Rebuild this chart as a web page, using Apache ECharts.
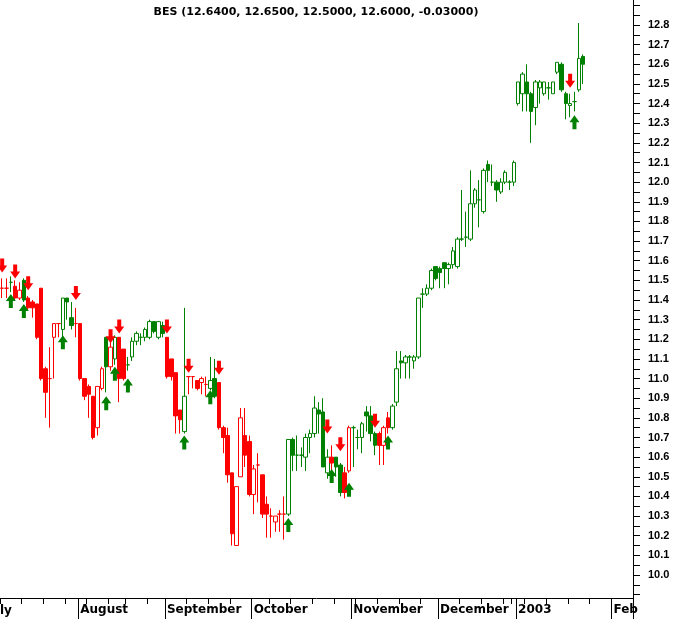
<!DOCTYPE html>
<html><head><meta charset="utf-8">
<script src="https://cdn.jsdelivr.net/npm/echarts/dist/echarts.min.js"></script>
<style>html,body{margin:0;padding:0;background:#fff}#c{width:681px;height:619px}</style>
</head><body><div id="c"></div>
<script>
// ---- trading calendar (categories) ----
const julDays=[8,9,10,11,12,15,16,17,18,19,22,23,24,25,26,29,30,31];
const augDays=[1,2,5,6,7,8,9,12,13,14,16,19,20,21,22,23,26,27,28,29];
const sepDays=[2,3,4,5,6,9,10,11,12,13,16,17,18,19,20,23,24,25,26,27];
const octDays=[1,2,3,4,7,8,9,10,11,14,15,16,17,18,21,22,23,24,25,28,29,30,31];
const novDays=[1,4,5,6,7,8,11,12,13,14,15,18,19,20,21,22,25,26,27,28];
const decDays=[2,3,4,5,6,9,10,11,12,13,16,17,18,19,20,23,27,30];
const janDays=[2,3,6,7,8,9,10,13,14,15,16,17,20,21,22,23,24,27,28,29,30,31];
const febDays=[3,4,5,6,7];
const monthNames=['August','September','October','November','December','2003','Feb'];

// ---- price data (per trading day) ----
const opens=[11.46,11.46,11.49,11.47,11.41,11.50,11.41,11.39,11.38,11.46,11.05,11.00,11.21,11.28,11.25,11.41,11.31,11.28,11.28,11.00,10.96,10.91,10.75,10.95,11.21,11.06,11.10,11.21,11.15,11.07,11.11,11.19,11.21,11.21,11.21,11.29,11.21,11.27,11.21,11.10,11.03,10.84,10.73,11.01,11.01,10.99,10.98,10.97,10.95,11.00,10.98,10.75,10.71,10.52,10.15,10.50,10.71,10.68,10.41,10.56,10.51,10.36,10.30,10.27,10.31,10.31,10.31,10.69,10.61,10.61,10.60,10.70,10.72,10.84,10.83,10.52,10.60,10.60,10.56,10.52,10.53,10.75,10.70,10.70,10.83,10.81,10.72,10.72,10.66,10.80,10.75,10.88,11.09,11.08,11.11,11.09,11.11,11.43,11.43,11.46,11.57,11.56,11.59,11.56,11.58,11.57,11.71,11.72,11.71,11.89,11.91,11.85,12.09,12.00,12.00,11.95,12.00,12.00,12.00,12.40,12.45,12.51,12.45,12.38,12.48,12.45,12.48,12.45,12.56,12.60,12.45,12.39,12.41,12.47,12.64];
const highs=[11.51,11.51,11.52,11.50,11.49,11.51,11.42,11.40,11.38,11.46,11.06,11.16,11.28,11.28,11.41,11.41,11.39,11.36,11.28,11.00,10.97,10.91,10.96,11.06,11.21,11.21,11.22,11.21,11.15,11.11,11.21,11.24,11.23,11.26,11.30,11.29,11.29,11.29,11.21,11.10,11.03,10.84,11.36,11.01,11.01,10.99,11.01,11.01,11.11,11.10,10.98,10.76,10.75,10.52,10.45,10.85,10.85,10.71,10.56,10.62,10.51,10.40,10.34,10.30,10.33,10.40,10.69,10.70,10.71,10.65,10.72,10.74,10.91,10.88,10.90,10.64,10.66,10.60,10.57,10.55,10.76,10.76,10.74,10.78,10.86,10.86,10.73,10.73,10.76,10.83,10.87,11.14,11.14,11.12,11.12,11.12,11.41,11.46,11.48,11.56,11.57,11.57,11.59,11.59,11.67,11.72,11.96,11.85,12.06,11.97,12.01,12.07,12.11,12.09,12.01,12.02,12.06,12.01,12.11,12.51,12.56,12.60,12.46,12.52,12.52,12.51,12.51,12.51,12.61,12.61,12.46,12.45,12.46,12.81,12.65];
const lows=[11.41,11.41,11.44,11.40,11.40,11.39,11.35,11.31,11.20,10.99,10.80,10.75,11.00,11.21,11.21,11.30,11.25,11.21,10.99,10.89,10.80,10.69,10.71,10.94,10.93,11.04,11.07,10.88,10.99,11.04,11.09,11.17,11.17,11.19,11.20,11.23,11.20,11.21,11.00,10.99,10.72,10.72,10.72,10.92,10.95,10.94,10.92,10.91,10.94,10.90,10.74,10.62,10.47,10.15,10.15,10.50,10.55,10.40,10.31,10.37,10.29,10.19,10.19,10.22,10.22,10.18,10.30,10.53,10.53,10.55,10.53,10.62,10.70,10.72,10.55,10.49,10.52,10.50,10.40,10.39,10.52,10.55,10.64,10.62,10.73,10.68,10.61,10.56,10.56,10.72,10.74,10.86,11.00,11.00,11.00,11.05,11.10,11.36,11.42,11.45,11.50,11.46,11.46,11.48,11.56,11.56,11.70,11.67,11.70,11.87,11.77,11.84,12.00,11.98,11.90,11.94,11.99,11.96,11.98,12.39,12.36,12.36,12.20,12.29,12.40,12.44,12.42,12.45,12.55,12.46,12.32,12.33,12.36,12.46,12.50];
const closes=[11.46,11.46,11.49,11.41,11.45,11.40,11.36,11.36,11.21,11.00,10.93,11.00,11.28,11.28,11.41,11.39,11.27,11.28,11.00,10.91,10.92,10.70,10.96,11.05,11.06,11.16,11.21,11.00,11.00,11.07,11.19,11.23,11.21,11.25,11.29,11.24,11.29,11.23,11.01,11.01,10.81,10.79,10.91,11.01,11.01,10.95,11.00,10.97,10.99,10.91,10.75,10.70,10.51,10.21,10.45,10.80,10.61,10.41,10.54,10.56,10.31,10.31,10.30,10.30,10.31,10.31,10.69,10.61,10.61,10.61,10.70,10.72,10.85,10.82,10.55,10.60,10.57,10.55,10.42,10.42,10.75,10.75,10.70,10.77,10.81,10.72,10.66,10.66,10.75,10.75,10.86,11.05,11.08,11.11,11.11,11.11,11.41,11.43,11.46,11.55,11.51,11.54,11.56,11.58,11.65,11.71,11.71,11.72,11.89,11.96,11.91,12.06,12.06,12.00,11.96,12.00,12.05,12.00,12.10,12.51,12.55,12.45,12.36,12.51,12.51,12.51,12.48,12.51,12.61,12.47,12.40,12.40,12.41,12.63,12.60];
// trend colour of each bar: g = green, r = red
const trend='rrgrrgrrrrrrrrgggrrrrrrrgrgrrgggggggggrrrrgrrrrrggrrrrrrrrrrrrrrrrggggggggggrggrrggggggrrrggggggggggggggggggggggggggggggggggggggggggggggggrgg'.split('');
// signal arrows: [bar index, price at arrow tip]
const sellArrows=[[0,11.54],[3,11.51],[6,11.45],[17,11.40],[25,11.18],[27,11.23],[38,11.23],[43,11.03],[50,11.02],[75,10.72],[78,10.63],[86,10.75],[131,12.48]];
const buyArrows=[[2,11.43],[5,11.38],[14,11.22],[24,10.91],[26,11.06],[29,11.00],[42,10.71],[48,10.94],[66,10.29],[76,10.54],[80,10.47],[89,10.71],[132,12.34]];

const GREEN='#008000', RED='#ff0000';
const FONT='Liberation Sans', XFONT='DejaVu Sans';

const categories=[], monthStart={}, monday={};
[[7,2002,julDays],[8,2002,augDays],[9,2002,sepDays],[10,2002,octDays],[11,2002,novDays],[12,2002,decDays],[1,2003,janDays],[2,2003,febDays]].forEach(([m,y,days],mi)=>{
  days.forEach((d,k)=>{
    const idx=categories.length;
    categories.push(y+'-'+String(m).padStart(2,'0')+'-'+String(d).padStart(2,'0'));
    if(k===0 && mi>0) monthStart[idx]=monthNames[mi-1];
    if(new Date(y,m-1,d).getDay()===1) monday[idx]=true;
  });
});

const candles=opens.map((o,i)=>{
  const col=trend[i]==='g'?GREEN:RED;
  const hollow=closes[i]>o;
  const fill=hollow?'#ffffff':col;
  return {value:[o,closes[i],lows[i],highs[i]],itemStyle:{color:fill,color0:fill,borderColor:col,borderColor0:col,borderWidth:1}};
});

const downPath='path://M3,0 L7,0 L7,7 L10,7 L5,14 L0,7 L3,7 Z';
const upPath='path://M5,0 L10,7 L7,7 L7,14 L3,14 L3,7 L0,7 Z';

const pxTop=25-19.643, pxBottom=575+19.643; // 12.9 and 9.9 positions
const chart=echarts.init(document.getElementById('c'),null,{renderer:'canvas',width:681,height:619});
chart.setOption({
  animation:false,
  backgroundColor:'#ffffff',
  grid:[
    {left:0,right:48,top:pxTop,bottom:619-pxBottom},
    {left:0,right:48,top:0,bottom:21}
  ],
  xAxis:[
    {type:'category',gridIndex:0,data:categories,boundaryGap:true,show:false},
    {type:'category',gridIndex:1,data:categories,boundaryGap:true,position:'bottom',
      axisLine:{show:true,lineStyle:{color:'#000',width:1}},
      axisTick:{show:true,length:6,interval:(i)=>!!monday[i],lineStyle:{color:'#000'}},
      axisLabel:{show:false},splitLine:{show:false}},
    {type:'category',gridIndex:1,data:categories,boundaryGap:true,position:'bottom',
      axisLine:{show:false},
      axisTick:{show:true,length:21,interval:(i)=>!!monthStart[i],lineStyle:{color:'#000'}},
      axisLabel:{show:true,interval:(i)=>!!monthStart[i],formatter:(v,i)=>monthStart[i]||'',
        align:'left',margin:6,color:'#000',fontFamily:XFONT,fontWeight:'bold',fontSize:12},
      splitLine:{show:false}}
  ],
  yAxis:[
    {type:'value',gridIndex:0,position:'right',min:9.9,max:12.9,interval:0.1,scale:true,
      axisLine:{show:false},
      axisTick:{show:true,length:7,inside:false,lineStyle:{color:'#000'}},
      minorTick:{show:true,splitNumber:2,length:7,lineStyle:{color:'#000'}},
      axisLabel:{margin:15,color:'#000',fontFamily:FONT,fontWeight:'bold',fontSize:11,
        formatter:(v)=>(v<9.95||v>12.85)?'':v.toFixed(1)},
      splitLine:{show:false}},
    {type:'value',gridIndex:1,position:'right',min:0,max:1,
      axisLine:{show:true,lineStyle:{color:'#000',width:1}},
      axisTick:{show:false},axisLabel:{show:false},splitLine:{show:false}}
  ],
  graphic:[
    {type:'text',x:316,y:7,style:{text:'BES (12.6400, 12.6500, 12.5000, 12.6000, -0.03000)',
      textAlign:'center',textVerticalAlign:'top',fill:'#000',font:'bold 11px "'+XFONT+'"'}},
    {type:'text',x:-13,y:605,style:{text:'July',textVerticalAlign:'top',fill:'#000',font:'bold 12px "'+XFONT+'"'}}
  ],
  series:[
    {type:'candlestick',xAxisIndex:0,yAxisIndex:0,data:candles,barWidth:4,clip:false},
    {type:'scatter',xAxisIndex:0,yAxisIndex:0,data:sellArrows,symbol:downPath,symbolSize:[10,14],
      symbolOffset:[0,-7],itemStyle:{color:RED,opacity:1},z:5},
    {type:'scatter',xAxisIndex:0,yAxisIndex:0,data:buyArrows,symbol:upPath,symbolSize:[10,14],
      symbolOffset:[0,7],itemStyle:{color:GREEN,opacity:1},z:5}
  ]
});
</script></body></html>
